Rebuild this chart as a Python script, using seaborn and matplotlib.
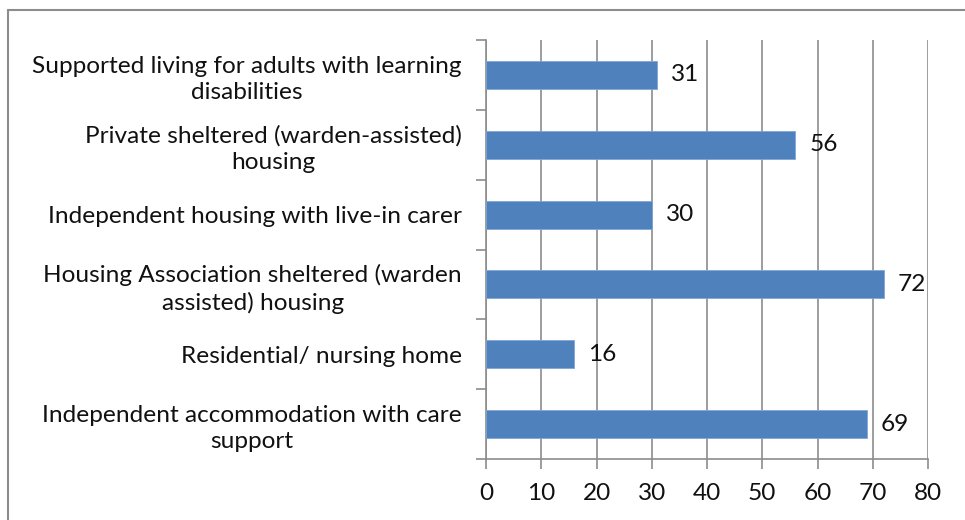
import matplotlib
matplotlib.use("Agg")
import matplotlib.pyplot as plt
import seaborn as sns
import pandas as pd
from matplotlib.lines import Line2D

categories = [
    "Supported living for adults with learning\ndisabilities",
    "Private sheltered (warden-assisted)\nhousing",
    "Independent housing with live-in carer",
    "Housing Association sheltered (warden\nassisted) housing",
    "Residential/ nursing home",
    "Independent accommodation with care\nsupport",
]
values = [31, 56, 30, 72, 16, 69]
xticks = [0, 10, 20, 30, 40, 50, 60, 70, 80]

sns.set_style("white")
plt.rcParams['font.family'] = ['Lato', 'DejaVu Sans']

FS = 17.6
W, H = 965, 520
fig = plt.figure(figsize=(W / 100, H / 100), dpi=100)
ax = fig.add_axes([486 / W, 1 - 459 / H, (928 - 486) / W, (459 - 40) / H])

df = pd.DataFrame({"cat": categories, "val": values})
sns.barplot(data=df, x="val", y="cat", orient="h", color="#4F81BD",
            saturation=1, width=0.4, ax=ax, edgecolor="#7FA6D6", linewidth=0.6,
            zorder=3)

ax.set_xlim(0, 80)
ax.set_ylim(len(categories) - 0.5, -0.5)
ax.set_xticks(xticks)
ax.set_xticklabels([str(t) for t in xticks], fontsize=FS, color="#111111")
ax.set_xlabel("")
ax.set_ylabel("")
ax.grid(axis="x", color="#8C8C8C", linewidth=1.2, zorder=0)
ax.set_axisbelow(True)

# y ticks as boundaries between categories
ax.set_yticks([i + 0.5 for i in range(-1, len(categories))], minor=False)
ax.set_yticklabels([])
ax.set_yticks(range(len(categories)), minor=True)
ax.set_yticklabels(categories, minor=True, fontsize=FS, color="#111111",
                   ha="right", multialignment="center", linespacing=1.3)
ax.tick_params(axis="y", which="minor", length=0, pad=24 * 0.72)
ax.tick_params(axis="y", which="major", length=7, width=1.2, color="#8C8C8C", direction="out", left=True)
ax.tick_params(axis="x", length=7, width=1.2, color="#8C8C8C", direction="out", bottom=True, pad=10)

for s in ["top", "right"]:
    ax.spines[s].set_visible(False)
for s in ["left", "bottom"]:
    ax.spines[s].set_color("#8C8C8C")
    ax.spines[s].set_linewidth(1.2)

for i, v in enumerate(values):
    ax.text(v + 2.5, i, str(v), va="center", ha="left", fontsize=FS, color="#111111")

fig.add_artist(Line2D([8 / W, 1], [1 - 10 / H, 1 - 10 / H], color="#8C8C8C", linewidth=1.5, transform=fig.transFigure))
fig.add_artist(Line2D([8 / W, 8 / W], [1 - 10 / H, 0], color="#8C8C8C", linewidth=1.5, transform=fig.transFigure))

fig.savefig("out.png", dpi=100)
